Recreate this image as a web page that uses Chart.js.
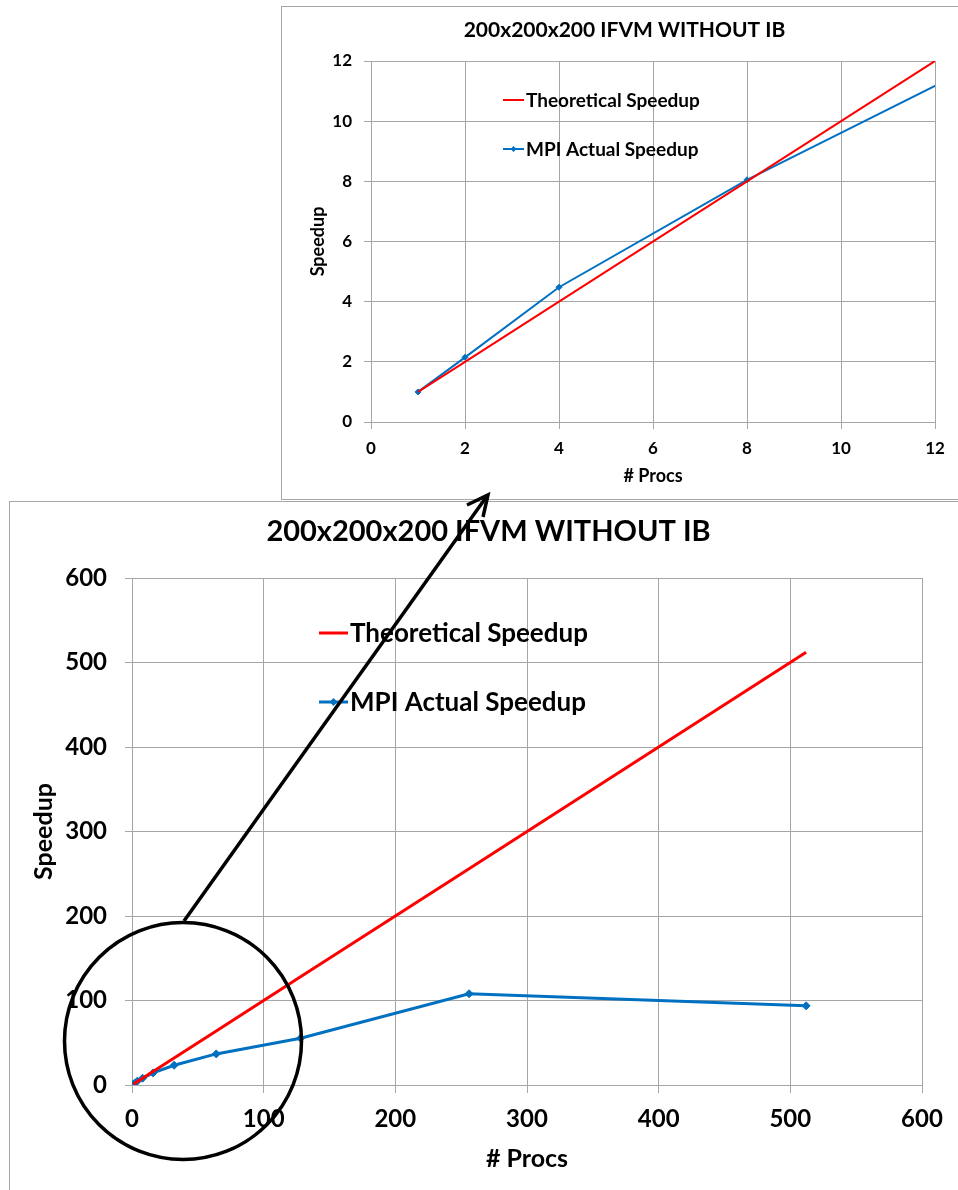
<!DOCTYPE html>
<html>
<head>
<meta charset="utf-8">
<title>200x200x200 IFVM WITHOUT IB</title>
<script src="https://cdn.jsdelivr.net/npm/chart.js@4.4.1/dist/chart.umd.min.js"></script>
<style>
  html, body { margin: 0; padding: 0; background: #fff; width: 958px; height: 1190px; overflow: hidden; }
  .box { position: absolute; border: 1px solid #a6a6a6; background: #fff; }
  #boxZoom { left: 281px; top: 6px; }
  #boxFull { left: 9px; top: 501px; }
  canvas { display: block; }
  #overlay { position: absolute; left: 0; top: 0; }
</style>
</head>
<body>
<div class="box" id="boxZoom"><canvas id="zoom" width="685" height="492"></canvas></div>
<div class="box" id="boxFull"><canvas id="full" width="957" height="688"></canvas></div>

<!-- circle + arrow pointing from the small-proc corner up to the zoomed chart -->
<svg id="overlay" width="958" height="1190">
  <circle cx="183" cy="1041" r="118.5" fill="none" stroke="#000" stroke-width="3.5"/>
  <line x1="184" y1="921" x2="487" y2="496" stroke="#000" stroke-width="3.5"/>
  <polyline points="467,505 488,495 483,517" fill="none" stroke="#000" stroke-width="3.5" stroke-linejoin="miter"/>
</svg>

<script>
// ===== DADOS =====
const procs = [1, 2, 4, 8, 16, 32, 64, 128, 256, 512];
const theoretical = [1, 2, 4, 8, 16, 32, 64, 128, 256, 512];
const mpiActual = [1, 2.15, 4.48, 8.05, 14.3, 23.4, 36.8, 55.4, 108, 93.7];

const titleText = "200x200x200 IFVM WITHOUT IB";
const seriesNames = ["Theoretical Speedup", "MPI Actual Speedup"];
const xTitle = "# Procs";
const yTitle = "Speedup";

const RED = "#ff0000";
const BLUE = "#0070c0";
const GRID = "#a6a6a6";
const FONT = "Lato, 'Open Sans', sans-serif";

const pares = (xs, ys) => xs.map((x, i) => ({ x: x, y: ys[i] }));

// legenda desenhada dentro da área do gráfico
const legendaInterna = {
    id: "legendaInterna",
    afterDatasetsDraw(chart, args, opts) {
        const ctx = chart.ctx;
        ctx.save();
        ctx.font = "bold " + opts.size + "px " + FONT;
        ctx.textBaseline = "middle";
        ctx.fillStyle = "#000";
        chart.data.datasets.forEach((ds, i) => {
            const y = opts.y + i * opts.gap;
            ctx.strokeStyle = ds.borderColor;
            ctx.lineWidth = opts.lineWidth;
            ctx.beginPath();
            ctx.moveTo(opts.x, y);
            ctx.lineTo(opts.x + opts.lineLen, y);
            ctx.stroke();
            if (ds.pointRadius > 0) {
                const cx = opts.x + opts.lineLen / 2;
                const r = ds.pointRadius;
                ctx.fillStyle = ds.borderColor;
                ctx.beginPath();
                ctx.moveTo(cx, y - r);
                ctx.lineTo(cx + r, y);
                ctx.lineTo(cx, y + r);
                ctx.lineTo(cx - r, y);
                ctx.closePath();
                ctx.fill();
                ctx.fillStyle = "#000";
            }
            ctx.fillText(ds.label, opts.x + opts.lineLen + 2, y + 1);
        });
        ctx.restore();
    }
};

function criarGrafico(id, cfg) {
    return new Chart(document.getElementById(id), {
        type: "line",
        data: {
            datasets: [{
                label: seriesNames[0],
                data: pares(procs, theoretical),
                borderColor: RED,
                backgroundColor: RED,
                borderWidth: cfg.lineWidth,
                pointRadius: 0,
                tension: 0
            }, {
                label: seriesNames[1],
                data: pares(procs, mpiActual),
                borderColor: BLUE,
                backgroundColor: BLUE,
                borderWidth: cfg.lineWidth,
                pointStyle: "rectRot",
                pointRadius: cfg.pointRadius,
                pointBorderWidth: 1,
                tension: 0
            }]
        },
        options: {
            responsive: false,
            animation: false,
            devicePixelRatio: 1,
            layout: { padding: 0 },
            plugins: {
                legend: { display: false },
                tooltip: { enabled: false },
                title: {
                    display: true,
                    text: titleText,
                    color: "#000",
                    font: { family: FONT, size: cfg.titleSize, weight: "bold", lineHeight: 1 },
                    padding: cfg.titlePad
                },
                legendaInterna: cfg.legend
            },
            scales: {
                x: {
                    type: "linear",
                    min: 0,
                    max: cfg.max,
                    afterFit: s => { s.height = cfg.xHeight; },
                    grid: { color: GRID, tickLength: cfg.xTick },
                    border: { color: GRID },
                    ticks: {
                        stepSize: cfg.step,
                        color: "#000",
                        padding: cfg.xTickPad,
                        maxRotation: 0,
                        font: { family: FONT, size: cfg.tickSize, weight: "bold" }
                    },
                    title: {
                        display: true,
                        text: xTitle,
                        color: "#000",
                        padding: { top: 0, bottom: cfg.xTitlePad },
                        font: { family: FONT, size: cfg.axisSize, weight: "bold" }
                    }
                },
                y: {
                    min: 0,
                    max: cfg.max,
                    afterFit: s => { s.width = cfg.yWidth; },
                    grid: { color: GRID, tickLength: cfg.yTick },
                    border: { color: GRID },
                    ticks: {
                        stepSize: cfg.step,
                        color: "#000",
                        padding: cfg.yTickPad,
                        font: { family: FONT, size: cfg.tickSize, weight: "bold" }
                    },
                    title: {
                        display: true,
                        text: yTitle,
                        color: "#000",
                        padding: { top: cfg.yTitlePad, bottom: 0 },
                        font: { family: FONT, size: cfg.axisSize, weight: "bold" }
                    }
                },
                // eixo vazio à direita só para reservar a margem
                margemDireita: {
                    position: "right",
                    min: 0,
                    max: cfg.max,
                    afterFit: s => { s.width = cfg.padRight; },
                    grid: { display: false },
                    border: { display: false },
                    ticks: { display: false }
                }
            }
        },
        plugins: [legendaInterna]
    });
}

// ===== GRÁFICO AMPLIADO (0 a 12) =====
criarGrafico("zoom", {
    max: 12, step: 2,
    lineWidth: 2, pointRadius: 3,
    padRight: 32, yWidth: 89, xHeight: 77,
    titleSize: 21, titlePad: { top: 13, bottom: 20 },
    tickSize: 17, axisSize: 18,
    xTick: 7, yTick: 7, xTickPad: 9, yTickPad: 12,
    xTitlePad: 12, yTitlePad: 25,
    legend: { x: 221, y: 93, gap: 49, lineLen: 21, lineWidth: 2, size: 19 }
});

// ===== GRÁFICO COMPLETO (0 a 600) =====
criarGrafico("full", {
    max: 600, step: 100,
    lineWidth: 3, pointRadius: 4,
    padRight: 45, yWidth: 122, xHeight: 105,
    titleSize: 29, titlePad: { top: 15, bottom: 32 },
    tickSize: 24, axisSize: 25,
    xTick: 8, yTick: 7, xTickPad: 12, yTickPad: 18,
    xTitlePad: 16, yTitlePad: 19,
    legend: { x: 309, y: 131, gap: 69, lineLen: 29, lineWidth: 3, size: 26 }
});
</script>
</body>
</html>
